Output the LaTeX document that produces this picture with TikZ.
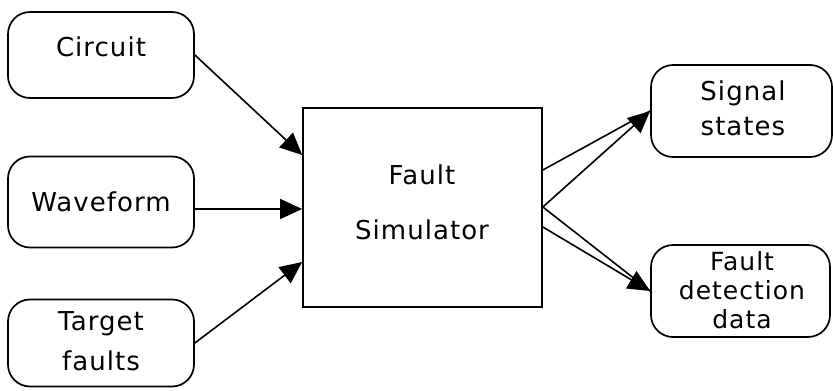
\documentclass[tikz,border=0pt]{standalone}
\usepackage{fontspec}
\setmainfont{DejaVu Sans}[LetterSpace=4]
\usetikzlibrary{arrows.meta,calc}
\begin{document}
\begin{tikzpicture}[x=1pt,y=-1pt,
  rbox/.style={draw,line width=1.7pt,rounded corners=22pt,inner sep=0pt},
  sbox/.style={draw,line width=1.7pt,inner sep=0pt},
  lbl/.style={font=\fontsize{26}{26}\selectfont,align=center,inner sep=0pt},
  arr/.style={line width=1.6pt,-{Triangle[length=22pt,width=20pt]}},
  ln/.style={line width=1.6pt}]
\useasboundingbox (0,0) rectangle (833,391);
% input boxes
\node[rbox,minimum width=186pt,minimum height=86pt] (circ) at (101,55) {};
\node[lbl] (circt) at (101,47) {Circuit};
\node[rbox,minimum width=186pt,minimum height=91pt] (wave) at (101,202) {};
\node[lbl] (wavet) at (101,202) {Waveform};
\node[rbox,minimum width=186pt,minimum height=87pt] (tgt) at (101,343) {};
\node[lbl,font=\fontsize{26}{40}\selectfont] (tgtt) at (101,341) {Target\\faults};
% simulator
\node[sbox,minimum width=239pt,minimum height=199pt] (sim) at (422.5,207.5) {};
\node[lbl,font=\fontsize{26}{55}\selectfont] (simt) at (422,202) {Fault\\Simulator};
% outputs
\node[rbox,minimum width=181pt,minimum height=92pt] (sig) at (741.5,111) {};
\node[lbl,font=\fontsize{26}{35}\selectfont] (sigt) at (743,108) {Signal\\states};
\node[rbox,minimum width=179pt,minimum height=92pt] (fdd) at (740.5,291) {};
\node[lbl,font=\fontsize{25}{29}\selectfont] (fddt) at (742,290) {Fault\\detection\\data};
% connector points
\coordinate (i1) at (sim.west |- 0,155);
\coordinate (i2) at (sim.west |- 0,209);
\coordinate (i3) at (sim.west |- 0,262);
\coordinate (w0) at (wave.east |- 0,209);
\coordinate (o1) at (sim.east |- 0,170);
\coordinate (o2) at (sim.east |- 0,207);
\coordinate (o3) at (sim.east |- 0,227);
\coordinate (s1) at (sig.west |- 0,111);
\coordinate (f1) at (fdd.west |- 0,291);
\draw[arr] (circ.east) -- (i1);
\draw[arr] (w0) -- (i2);
\draw[arr] (tgt.east) -- (i3);
\draw[ln] (o1) -- (s1);
\draw[arr] (o2) -- (s1);
\draw[ln] (o2) -- (f1);
\draw[arr] (o3) -- (f1);
\end{tikzpicture}
\end{document}
